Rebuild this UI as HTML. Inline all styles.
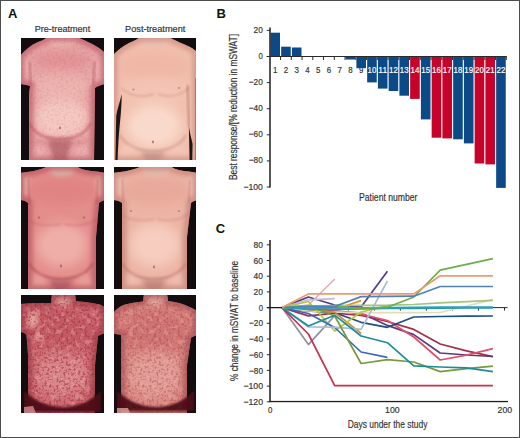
<!DOCTYPE html>
<html><head><meta charset="utf-8"><style>
html,body{margin:0;padding:0;background:#fff;}
svg{display:block;}
text{font-family:"Liberation Sans", sans-serif;}
</style></head><body>
<svg width="520" height="438" viewBox="0 0 520 438" font-family='"Liberation Sans", sans-serif'>
<rect x="0" y="0" width="520" height="438" fill="#fff"/>
<text x="361.20" y="73.3" text-anchor="middle" textLength="4.4" lengthAdjust="spacingAndGlyphs" font-size="9" fill="#333" stroke="#333" stroke-width="0.18">9</text>
<rect x="270.40" y="32.70" width="9.6" height="23.80" fill="#0b4a86"/>
<rect x="281.15" y="46.70" width="9.6" height="9.80" fill="#0b4a86"/>
<rect x="291.90" y="47.50" width="9.6" height="9.00" fill="#0b4a86"/>
<rect x="345.65" y="56.50" width="9.6" height="3.00" fill="#0b4a86"/>
<rect x="356.40" y="56.50" width="9.6" height="11.70" fill="#0b4a86"/>
<rect x="367.15" y="56.50" width="9.6" height="25.90" fill="#0b4a86"/>
<rect x="377.90" y="56.50" width="9.6" height="32.10" fill="#0b4a86"/>
<rect x="388.65" y="56.50" width="9.6" height="34.50" fill="#0b4a86"/>
<rect x="399.40" y="56.50" width="9.6" height="39.20" fill="#0b4a86"/>
<rect x="410.15" y="56.50" width="9.6" height="42.40" fill="#c8032b"/>
<rect x="420.90" y="56.50" width="9.6" height="62.90" fill="#0b4a86"/>
<rect x="431.65" y="56.50" width="9.6" height="81.20" fill="#c8032b"/>
<rect x="442.40" y="56.50" width="9.6" height="81.90" fill="#c8032b"/>
<rect x="453.15" y="56.50" width="9.6" height="82.80" fill="#0b4a86"/>
<rect x="463.90" y="56.50" width="9.6" height="86.90" fill="#0b4a86"/>
<rect x="474.65" y="56.50" width="9.6" height="107.00" fill="#c8032b"/>
<rect x="485.40" y="56.50" width="9.6" height="107.90" fill="#c8032b"/>
<rect x="496.15" y="56.50" width="9.6" height="131.40" fill="#0b4a86"/>
<rect x="269.2" y="27.5" width="1.6" height="160" fill="#2e2e2e"/>
<line x1="266.7" y1="56.5" x2="506.8" y2="56.5" stroke="#2b2b2b" stroke-width="1"/>
<line x1="266.8" y1="30.40" x2="270" y2="30.40" stroke="#2b2b2b" stroke-width="1"/>
<text x="262.8" y="32.90" text-anchor="end" textLength="9.2" lengthAdjust="spacingAndGlyphs" font-size="9" fill="#333" stroke="#333" stroke-width="0.18">20</text>
<line x1="266.8" y1="56.50" x2="270" y2="56.50" stroke="#2b2b2b" stroke-width="1"/>
<text x="262.8" y="59.00" text-anchor="end" textLength="4.3" lengthAdjust="spacingAndGlyphs" font-size="9" fill="#333" stroke="#333" stroke-width="0.18">0</text>
<line x1="266.8" y1="82.60" x2="270" y2="82.60" stroke="#2b2b2b" stroke-width="1"/>
<text x="262.8" y="85.10" text-anchor="end" textLength="14.0" lengthAdjust="spacingAndGlyphs" font-size="9" fill="#333" stroke="#333" stroke-width="0.18">−20</text>
<line x1="266.8" y1="108.70" x2="270" y2="108.70" stroke="#2b2b2b" stroke-width="1"/>
<text x="262.8" y="111.20" text-anchor="end" textLength="14.0" lengthAdjust="spacingAndGlyphs" font-size="9" fill="#333" stroke="#333" stroke-width="0.18">−40</text>
<line x1="266.8" y1="134.80" x2="270" y2="134.80" stroke="#2b2b2b" stroke-width="1"/>
<text x="262.8" y="137.30" text-anchor="end" textLength="14.0" lengthAdjust="spacingAndGlyphs" font-size="9" fill="#333" stroke="#333" stroke-width="0.18">−60</text>
<line x1="266.8" y1="160.90" x2="270" y2="160.90" stroke="#2b2b2b" stroke-width="1"/>
<text x="262.8" y="163.40" text-anchor="end" textLength="14.0" lengthAdjust="spacingAndGlyphs" font-size="9" fill="#333" stroke="#333" stroke-width="0.18">−80</text>
<line x1="266.8" y1="187.00" x2="270" y2="187.00" stroke="#2b2b2b" stroke-width="1"/>
<text x="262.8" y="189.50" text-anchor="end" textLength="19.3" lengthAdjust="spacingAndGlyphs" font-size="9" fill="#333" stroke="#333" stroke-width="0.18">−100</text>
<line x1="280.55" y1="56.5" x2="280.55" y2="60" stroke="#2b2b2b" stroke-width="1"/>
<line x1="291.30" y1="56.5" x2="291.30" y2="60" stroke="#2b2b2b" stroke-width="1"/>
<line x1="302.05" y1="56.5" x2="302.05" y2="60" stroke="#2b2b2b" stroke-width="1"/>
<line x1="312.80" y1="56.5" x2="312.80" y2="60" stroke="#2b2b2b" stroke-width="1"/>
<line x1="323.55" y1="56.5" x2="323.55" y2="60" stroke="#2b2b2b" stroke-width="1"/>
<line x1="334.30" y1="56.5" x2="334.30" y2="60" stroke="#2b2b2b" stroke-width="1"/>
<line x1="345.05" y1="56.5" x2="345.05" y2="60" stroke="#2b2b2b" stroke-width="1"/>
<line x1="355.80" y1="56.5" x2="355.80" y2="60" stroke="#2b2b2b" stroke-width="1"/>
<line x1="366.55" y1="56.5" x2="366.55" y2="60" stroke="#2b2b2b" stroke-width="1"/>
<line x1="377.30" y1="56.5" x2="377.30" y2="60" stroke="#2b2b2b" stroke-width="1"/>
<line x1="388.05" y1="56.5" x2="388.05" y2="60" stroke="#2b2b2b" stroke-width="1"/>
<line x1="398.80" y1="56.5" x2="398.80" y2="60" stroke="#2b2b2b" stroke-width="1"/>
<line x1="409.55" y1="56.5" x2="409.55" y2="60" stroke="#2b2b2b" stroke-width="1"/>
<line x1="420.30" y1="56.5" x2="420.30" y2="60" stroke="#2b2b2b" stroke-width="1"/>
<line x1="431.05" y1="56.5" x2="431.05" y2="60" stroke="#2b2b2b" stroke-width="1"/>
<line x1="441.80" y1="56.5" x2="441.80" y2="60" stroke="#2b2b2b" stroke-width="1"/>
<line x1="452.55" y1="56.5" x2="452.55" y2="60" stroke="#2b2b2b" stroke-width="1"/>
<line x1="463.30" y1="56.5" x2="463.30" y2="60" stroke="#2b2b2b" stroke-width="1"/>
<line x1="474.05" y1="56.5" x2="474.05" y2="60" stroke="#2b2b2b" stroke-width="1"/>
<line x1="484.80" y1="56.5" x2="484.80" y2="60" stroke="#2b2b2b" stroke-width="1"/>
<line x1="495.55" y1="56.5" x2="495.55" y2="60" stroke="#2b2b2b" stroke-width="1"/>
<line x1="506.30" y1="56.5" x2="506.30" y2="60" stroke="#2b2b2b" stroke-width="1"/>
<text x="275.20" y="73.3" text-anchor="middle" textLength="4.4" lengthAdjust="spacingAndGlyphs" font-size="9" fill="#333" stroke="#333" stroke-width="0.18">1</text>
<text x="285.95" y="73.3" text-anchor="middle" textLength="4.4" lengthAdjust="spacingAndGlyphs" font-size="9" fill="#333" stroke="#333" stroke-width="0.18">2</text>
<text x="296.70" y="73.3" text-anchor="middle" textLength="4.4" lengthAdjust="spacingAndGlyphs" font-size="9" fill="#333" stroke="#333" stroke-width="0.18">3</text>
<text x="307.45" y="73.3" text-anchor="middle" textLength="4.4" lengthAdjust="spacingAndGlyphs" font-size="9" fill="#333" stroke="#333" stroke-width="0.18">4</text>
<text x="318.20" y="73.3" text-anchor="middle" textLength="4.4" lengthAdjust="spacingAndGlyphs" font-size="9" fill="#333" stroke="#333" stroke-width="0.18">5</text>
<text x="328.95" y="73.3" text-anchor="middle" textLength="4.4" lengthAdjust="spacingAndGlyphs" font-size="9" fill="#333" stroke="#333" stroke-width="0.18">6</text>
<text x="339.70" y="73.3" text-anchor="middle" textLength="4.4" lengthAdjust="spacingAndGlyphs" font-size="9" fill="#333" stroke="#333" stroke-width="0.18">7</text>
<text x="350.45" y="73.3" text-anchor="middle" textLength="4.4" lengthAdjust="spacingAndGlyphs" font-size="9" fill="#333" stroke="#333" stroke-width="0.18">8</text>
<text x="371.95" y="73.3" text-anchor="middle" textLength="8.8" lengthAdjust="spacingAndGlyphs" font-size="9" fill="#fff" stroke="#fff" stroke-width="0.18">10</text>
<text x="382.70" y="73.3" text-anchor="middle" textLength="8.8" lengthAdjust="spacingAndGlyphs" font-size="9" fill="#fff" stroke="#fff" stroke-width="0.18">11</text>
<text x="393.45" y="73.3" text-anchor="middle" textLength="8.8" lengthAdjust="spacingAndGlyphs" font-size="9" fill="#fff" stroke="#fff" stroke-width="0.18">12</text>
<text x="404.20" y="73.3" text-anchor="middle" textLength="8.8" lengthAdjust="spacingAndGlyphs" font-size="9" fill="#fff" stroke="#fff" stroke-width="0.18">13</text>
<text x="414.95" y="73.3" text-anchor="middle" textLength="8.8" lengthAdjust="spacingAndGlyphs" font-size="9" fill="#fff" stroke="#fff" stroke-width="0.18">14</text>
<text x="425.70" y="73.3" text-anchor="middle" textLength="8.8" lengthAdjust="spacingAndGlyphs" font-size="9" fill="#fff" stroke="#fff" stroke-width="0.18">15</text>
<text x="436.45" y="73.3" text-anchor="middle" textLength="8.8" lengthAdjust="spacingAndGlyphs" font-size="9" fill="#fff" stroke="#fff" stroke-width="0.18">16</text>
<text x="447.20" y="73.3" text-anchor="middle" textLength="8.8" lengthAdjust="spacingAndGlyphs" font-size="9" fill="#fff" stroke="#fff" stroke-width="0.18">17</text>
<text x="457.95" y="73.3" text-anchor="middle" textLength="8.8" lengthAdjust="spacingAndGlyphs" font-size="9" fill="#fff" stroke="#fff" stroke-width="0.18">18</text>
<text x="468.70" y="73.3" text-anchor="middle" textLength="8.8" lengthAdjust="spacingAndGlyphs" font-size="9" fill="#fff" stroke="#fff" stroke-width="0.18">19</text>
<text x="479.45" y="73.3" text-anchor="middle" textLength="8.8" lengthAdjust="spacingAndGlyphs" font-size="9" fill="#fff" stroke="#fff" stroke-width="0.18">20</text>
<text x="490.20" y="73.3" text-anchor="middle" textLength="8.8" lengthAdjust="spacingAndGlyphs" font-size="9" fill="#fff" stroke="#fff" stroke-width="0.18">21</text>
<text x="500.95" y="73.3" text-anchor="middle" textLength="8.8" lengthAdjust="spacingAndGlyphs" font-size="9" fill="#fff" stroke="#fff" stroke-width="0.18">22</text>
<text x="359" y="201.1" textLength="58.5" lengthAdjust="spacingAndGlyphs" font-size="10.6" fill="#333" stroke="#333" stroke-width="0.18">Patient number</text>
<text transform="translate(236.6,180) rotate(-90)" x="0" y="0" textLength="146" lengthAdjust="spacingAndGlyphs" font-size="10" fill="#333" stroke="#333" stroke-width="0.18">Best response/[% reduction in mSWAT]</text>
<rect x="269.2" y="240" width="1.6" height="162" fill="#2a2a2a"/>
<rect x="269.2" y="400.9" width="238.8" height="1.3" fill="#1e1e1e"/>
<line x1="266.8" y1="244.80" x2="270" y2="244.80" stroke="#2b2b2b" stroke-width="1"/>
<text x="263" y="247.90" text-anchor="end" textLength="9.4" lengthAdjust="spacingAndGlyphs" font-size="9" fill="#333" stroke="#333" stroke-width="0.18">80</text>
<line x1="266.8" y1="260.50" x2="270" y2="260.50" stroke="#2b2b2b" stroke-width="1"/>
<text x="263" y="263.60" text-anchor="end" textLength="9.4" lengthAdjust="spacingAndGlyphs" font-size="9" fill="#333" stroke="#333" stroke-width="0.18">60</text>
<line x1="266.8" y1="276.20" x2="270" y2="276.20" stroke="#2b2b2b" stroke-width="1"/>
<text x="263" y="279.30" text-anchor="end" textLength="9.4" lengthAdjust="spacingAndGlyphs" font-size="9" fill="#333" stroke="#333" stroke-width="0.18">40</text>
<line x1="266.8" y1="291.90" x2="270" y2="291.90" stroke="#2b2b2b" stroke-width="1"/>
<text x="263" y="295.00" text-anchor="end" textLength="9.4" lengthAdjust="spacingAndGlyphs" font-size="9" fill="#333" stroke="#333" stroke-width="0.18">20</text>
<line x1="266.8" y1="307.60" x2="270" y2="307.60" stroke="#2b2b2b" stroke-width="1"/>
<text x="263" y="310.70" text-anchor="end" textLength="4.3" lengthAdjust="spacingAndGlyphs" font-size="9" fill="#333" stroke="#333" stroke-width="0.18">0</text>
<line x1="266.8" y1="323.30" x2="270" y2="323.30" stroke="#2b2b2b" stroke-width="1"/>
<text x="263" y="326.40" text-anchor="end" textLength="14.0" lengthAdjust="spacingAndGlyphs" font-size="9" fill="#333" stroke="#333" stroke-width="0.18">−20</text>
<line x1="266.8" y1="339.00" x2="270" y2="339.00" stroke="#2b2b2b" stroke-width="1"/>
<text x="263" y="342.10" text-anchor="end" textLength="14.0" lengthAdjust="spacingAndGlyphs" font-size="9" fill="#333" stroke="#333" stroke-width="0.18">−40</text>
<line x1="266.8" y1="354.70" x2="270" y2="354.70" stroke="#2b2b2b" stroke-width="1"/>
<text x="263" y="357.80" text-anchor="end" textLength="14.0" lengthAdjust="spacingAndGlyphs" font-size="9" fill="#333" stroke="#333" stroke-width="0.18">−60</text>
<line x1="266.8" y1="370.40" x2="270" y2="370.40" stroke="#2b2b2b" stroke-width="1"/>
<text x="263" y="373.50" text-anchor="end" textLength="14.0" lengthAdjust="spacingAndGlyphs" font-size="9" fill="#333" stroke="#333" stroke-width="0.18">−80</text>
<line x1="266.8" y1="386.10" x2="270" y2="386.10" stroke="#2b2b2b" stroke-width="1"/>
<text x="263" y="389.20" text-anchor="end" textLength="19.6" lengthAdjust="spacingAndGlyphs" font-size="9" fill="#333" stroke="#333" stroke-width="0.18">−100</text>
<line x1="266.8" y1="401.80" x2="270" y2="401.80" stroke="#2b2b2b" stroke-width="1"/>
<text x="263" y="404.90" text-anchor="end" textLength="19.6" lengthAdjust="spacingAndGlyphs" font-size="9" fill="#333" stroke="#333" stroke-width="0.18">−120</text>
<line x1="267" y1="307.6" x2="507.5" y2="307.6" stroke="#2b2b2b" stroke-width="1"/>
<line x1="296.28" y1="307.6" x2="296.28" y2="310.6" stroke="#2b2b2b" stroke-width="1"/>
<line x1="322.31" y1="307.6" x2="322.31" y2="310.6" stroke="#2b2b2b" stroke-width="1"/>
<line x1="348.34" y1="307.6" x2="348.34" y2="310.6" stroke="#2b2b2b" stroke-width="1"/>
<line x1="374.37" y1="307.6" x2="374.37" y2="310.6" stroke="#2b2b2b" stroke-width="1"/>
<line x1="400.40" y1="307.6" x2="400.40" y2="310.6" stroke="#2b2b2b" stroke-width="1"/>
<line x1="426.43" y1="307.6" x2="426.43" y2="310.6" stroke="#2b2b2b" stroke-width="1"/>
<line x1="452.46" y1="307.6" x2="452.46" y2="310.6" stroke="#2b2b2b" stroke-width="1"/>
<line x1="478.49" y1="307.6" x2="478.49" y2="310.6" stroke="#2b2b2b" stroke-width="1"/>
<line x1="504.52" y1="307.6" x2="504.52" y2="310.6" stroke="#2b2b2b" stroke-width="1"/>
<polyline points="282.0,307.6 308.4,297.0 334.7,305.0 361.1,307.0 387.4,271.2" fill="none" stroke="#4e3c8e" stroke-width="1.7" stroke-linejoin="round"/>
<polyline points="282.0,307.6 308.4,315.9 334.7,313.2 361.1,315.5 387.4,321.5 413.8,329.4 440.2,344.0 466.5,350.9 492.9,356.6" fill="none" stroke="#a33048" stroke-width="1.7" stroke-linejoin="round"/>
<polyline points="282.0,307.6 308.4,310.0 334.7,311.0 361.1,313.0 387.4,325.4 413.8,334.6 440.2,353.0 466.5,355.0 492.9,356.5" fill="none" stroke="#5c3a78" stroke-width="1.7" stroke-linejoin="round"/>
<polyline points="282.0,307.6 308.4,311.0 334.7,311.0 361.1,314.0 387.4,320.5 413.8,337.0 440.2,360.0 466.5,355.2 492.9,348.7" fill="none" stroke="#e0506c" stroke-width="1.7" stroke-linejoin="round"/>
<polyline points="282.0,307.6 308.4,311.0 334.7,312.8 361.1,322.3 387.4,327.3 413.8,317.0 440.2,316.5 466.5,316.2 492.9,316.0" fill="none" stroke="#1f4e84" stroke-width="1.7" stroke-linejoin="round"/>
<polyline points="282.0,307.6 308.4,311.0 334.7,312.0 361.1,312.7 387.4,312.7 413.8,312.7 440.2,312.5 466.5,306.0 492.9,299.6" fill="none" stroke="#e2dcbc" stroke-width="1.7" stroke-linejoin="round"/>
<polyline points="282.0,307.6 308.4,307.5 334.7,309.5 361.1,300.6" fill="none" stroke="#ec8a28" stroke-width="1.7" stroke-linejoin="round"/>
<polyline points="282.0,307.6 308.4,309.0 334.7,312.3 361.1,333.4" fill="none" stroke="#d4843c" stroke-width="1.7" stroke-linejoin="round"/>
<polyline points="282.0,307.6 308.4,344.6 334.7,315.6" fill="none" stroke="#9090a4" stroke-width="1.7" stroke-linejoin="round"/>
<polyline points="282.0,307.6 308.4,299.8 334.7,298.6" fill="none" stroke="#c8b8d4" stroke-width="1.7" stroke-linejoin="round"/>
<polyline points="282.0,307.6 308.4,305.0 334.7,279.0" fill="none" stroke="#e0b0bc" stroke-width="1.7" stroke-linejoin="round"/>
<polyline points="282.0,307.6 308.4,301.5 334.7,331.0 361.1,312.0 387.4,306.0" fill="none" stroke="#b4c840" stroke-width="1.7" stroke-linejoin="round"/>
<polyline points="282.0,307.6 308.4,313.5 334.7,327.5 361.1,352.0 387.4,357.3" fill="none" stroke="#3a68bc" stroke-width="1.7" stroke-linejoin="round"/>
<polyline points="282.0,307.6 308.4,327.0 334.7,327.2 361.1,329.4 387.4,281.0" fill="none" stroke="#a8bcdc" stroke-width="1.7" stroke-linejoin="round"/>
<polyline points="282.0,307.6 308.4,334.0 334.7,385.6 361.1,385.6 387.4,385.6 413.8,385.6 440.2,385.6 466.5,385.6 492.9,385.6" fill="none" stroke="#c8324a" stroke-width="1.7" stroke-linejoin="round"/>
<polyline points="282.0,307.6 308.4,305.5 334.7,316.0 361.1,363.5 387.4,359.6 413.8,362.0 440.2,371.6 466.5,368.7 492.9,366.1" fill="none" stroke="#7a9a3a" stroke-width="1.7" stroke-linejoin="round"/>
<polyline points="282.0,307.6 308.4,326.0 334.7,315.2 361.1,336.0 387.4,342.7 413.8,365.8 440.2,367.0 466.5,367.8 492.9,371.7" fill="none" stroke="#1a8e98" stroke-width="1.7" stroke-linejoin="round"/>
<polyline points="282.0,307.6 308.4,309.0 334.7,309.5 361.1,308.8 387.4,308.4 413.8,308.4 440.2,308.2 466.5,308.0 492.9,307.8" fill="none" stroke="#2a9a9a" stroke-width="1.7" stroke-linejoin="round"/>
<polyline points="282.0,307.6 308.4,308.0 334.7,308.0 361.1,307.8 387.4,307.6 413.8,307.4 440.2,307.2 466.5,307.2 492.9,307.2" fill="none" stroke="#2c9ec8" stroke-width="1.7" stroke-linejoin="round"/>
<polyline points="282.0,307.6 308.4,305.8 334.7,305.5 361.1,305.3 387.4,305.2 413.8,304.5 440.2,302.9 466.5,301.6 492.9,300.4" fill="none" stroke="#a4c47c" stroke-width="1.7" stroke-linejoin="round"/>
<polyline points="282.0,307.6 308.4,306.2 334.7,306.4 361.1,308.6 387.4,307.2 413.8,297.0 440.2,270.2 466.5,264.4 492.9,258.6" fill="none" stroke="#6cae48" stroke-width="1.7" stroke-linejoin="round"/>
<polyline points="282.0,307.6 308.4,306.5 334.7,306.5 361.1,296.6 387.4,296.4 413.8,296.2 440.2,286.5 466.5,286.5 492.9,286.5" fill="none" stroke="#4d82ba" stroke-width="1.7" stroke-linejoin="round"/>
<polyline points="282.0,307.6 308.4,293.9 334.7,293.9 361.1,293.9 387.4,293.9 413.8,293.9 440.2,275.8 466.5,275.8 492.9,275.8" fill="none" stroke="#eb9b6e" stroke-width="1.7" stroke-linejoin="round"/>
<line x1="267" y1="307.6" x2="282" y2="307.6" stroke="#1a1a1a" stroke-width="1.2"/>
<text x="270.1" y="412.6" text-anchor="middle" textLength="4.4" lengthAdjust="spacingAndGlyphs" font-size="9" fill="#333" stroke="#333" stroke-width="0.18">0</text>
<text x="392.4" y="412.6" text-anchor="middle" textLength="14.6" lengthAdjust="spacingAndGlyphs" font-size="9" fill="#333" stroke="#333" stroke-width="0.18">100</text>
<text x="504.9" y="412.6" text-anchor="middle" textLength="14.6" lengthAdjust="spacingAndGlyphs" font-size="9" fill="#333" stroke="#333" stroke-width="0.18">200</text>
<text x="347.7" y="427.9" textLength="79.8" lengthAdjust="spacingAndGlyphs" font-size="10.8" fill="#333" stroke="#333" stroke-width="0.18">Days under the study</text>
<text transform="translate(238,381) rotate(-90)" x="0" y="0" textLength="120" lengthAdjust="spacingAndGlyphs" font-size="10.4" fill="#333" stroke="#333" stroke-width="0.18">% change in mSWAT to baseline</text>
<text x="8" y="18.2" font-size="13" font-weight="bold" fill="#111">A</text>
<text x="216.4" y="18.2" font-size="13" font-weight="bold" fill="#111">B</text>
<text x="215.8" y="233.3" font-size="13" font-weight="bold" fill="#111">C</text>
<text x="34.7" y="31.8" textLength="55.5" lengthAdjust="spacingAndGlyphs" font-size="8.6" fill="#333" stroke="#333" stroke-width="0.18">Pre-treatment</text>
<text x="125.1" y="31.8" textLength="60.2" lengthAdjust="spacingAndGlyphs" font-size="8.6" fill="#333" stroke="#333" stroke-width="0.18">Post-treatment</text>
<defs>
<filter id="soft" x="-5%" y="-5%" width="110%" height="110%"><feGaussianBlur stdDeviation="0.5"/></filter>
<filter id="b1" x="-50%" y="-50%" width="200%" height="200%"><feGaussianBlur stdDeviation="1"/></filter>
<filter id="b2" x="-50%" y="-50%" width="200%" height="200%"><feGaussianBlur stdDeviation="2"/></filter>
<filter id="b4" x="-50%" y="-50%" width="200%" height="200%"><feGaussianBlur stdDeviation="4"/></filter>
<filter id="b6" x="-50%" y="-50%" width="200%" height="200%"><feGaussianBlur stdDeviation="6"/></filter>
<filter id="mot1" x="0" y="0" width="100%" height="100%" color-interpolation-filters="sRGB"><feTurbulence type="fractalNoise" baseFrequency="0.42" numOctaves="2" seed="4"/><feColorMatrix type="matrix" values="0 0 0 0 0.64  0 0 0 0 0.18  0 0 0 0 0.24  6 0 0 0 -3"/></filter>
<filter id="mot2" x="0" y="0" width="100%" height="100%" color-interpolation-filters="sRGB"><feTurbulence type="fractalNoise" baseFrequency="0.2" numOctaves="2" seed="9"/><feColorMatrix type="matrix" values="0 0 0 0 0.94  0 0 0 0 0.72  0 0 0 0 0.70  6 0 0 0 -3.2"/></filter>
</defs>
<clipPath id="pc1"><rect x="0" y="0" width="83" height="122"/></clipPath>
<clipPath id="sk1"><path d="M26,-1 L56,-1 C63,2 72,6 78,10 C81,12 83,14 84,15 L84,46 C80,47 76,48 74,50 L73,123 L8,123 L8,60 C8,54 9,50 9,48 C6,47 2,46 -1,46 L-1,18 C4,12 10,7 16,4.5 C20,3 24,1.5 26,-1 Z"/></clipPath>
<g transform="translate(21,38)" clip-path="url(#pc1)">
<rect x="0" y="0" width="83" height="122" fill="#140d10"/>
<g filter="url(#soft)">
<path d="M26,-1 L56,-1 C63,2 72,6 78,10 C81,12 83,14 84,15 L84,46 C80,47 76,48 74,50 L73,123 L8,123 L8,60 C8,54 9,50 9,48 C6,47 2,46 -1,46 L-1,18 C4,12 10,7 16,4.5 C20,3 24,1.5 26,-1 Z" fill="#e8a6a6"/>
<g clip-path="url(#sk1)">
<ellipse cx="41" cy="3" rx="13" ry="6" fill="#ecbab2" opacity="0.8" filter="url(#b2)"/>
<ellipse cx="41" cy="22" rx="30" ry="9" fill="#d8747c" opacity="0.35" filter="url(#b4)"/>
<ellipse cx="22" cy="50" rx="12" ry="10" fill="#eeb4ae" opacity="0.5" filter="url(#b4)"/>
<ellipse cx="58" cy="50" rx="12" ry="10" fill="#eeb4ae" opacity="0.5" filter="url(#b4)"/>
<ellipse cx="40" cy="80" rx="28" ry="22" fill="#f6ccc4" opacity="0.9" filter="url(#b6)"/>
<ellipse cx="40" cy="50" rx="26" ry="14" fill="#f0bcb6" opacity="0.6" filter="url(#b6)"/>
<ellipse cx="40" cy="104" rx="28" ry="5" fill="#d07078" opacity="0.3" filter="url(#b2)"/>
<ellipse cx="3" cy="30" rx="4" ry="12" fill="#f0c0b8" opacity="0.6" filter="url(#b2)"/>
<ellipse cx="80" cy="32" rx="4" ry="12" fill="#f0c0b8" opacity="0.6" filter="url(#b2)"/>
<path d="M8.5,24 C9.0,35.0 9.5,42 10.0,48" fill="none" stroke="#9a3a48" stroke-width="1.6" opacity="0.5" filter="url(#b1)"/>
<path d="M73.5,24 C73.0,35.0 72.5,42 72.0,48" fill="none" stroke="#9a3a48" stroke-width="1.6" opacity="0.5" filter="url(#b1)"/>
<path d="M8,85 C14,97 27,101 39,101 C51,101 64,97 70,85" fill="none" stroke="#b8505c" stroke-width="2.6" opacity="0.55" filter="url(#b1)"/>
<ellipse cx="16" cy="119" rx="9" ry="12" fill="#eeb8b4" opacity="0.5" filter="url(#b2)"/>
<ellipse cx="62" cy="119" rx="9" ry="12" fill="#eeb8b4" opacity="0.5" filter="url(#b2)"/>
<path d="M27,102 L51,102 L45,125 L33,125 Z" fill="#b06068" opacity="0.75" filter="url(#b2)"/>
<ellipse cx="39" cy="90" rx="1.1" ry="1.4" fill="#8a4a48" opacity="0.6"/>
<rect x="0" y="0" width="83" height="122" filter="url(#mot1)" opacity="0.08"/>
<path d="M26,-1 L56,-1 C63,2 72,6 78,10 C81,12 83,14 84,15 L84,46 C80,47 76,48 74,50 L73,123 L8,123 L8,60 C8,54 9,50 9,48 C6,47 2,46 -1,46 L-1,18 C4,12 10,7 16,4.5 C20,3 24,1.5 26,-1 Z" fill="none" stroke="#b85060" stroke-width="9" opacity="0.6" filter="url(#b2)"/>
</g>
</g></g>
<clipPath id="pc2"><rect x="0" y="0" width="82" height="122"/></clipPath>
<clipPath id="sk2"><path d="M26,-1 L54,-1 C62,3 70,6 76,9 C80,11 82,13 83,14.4 L83,123 L-1,123 L-1,17 C4,12 9,8 15,5 C20,3 24,1 26,-1 Z"/></clipPath>
<g transform="translate(114,38)" clip-path="url(#pc2)">
<rect x="0" y="0" width="82" height="122" fill="#140d10"/>
<g filter="url(#soft)">
<path d="M26,-1 L54,-1 C62,3 70,6 76,9 C80,11 82,13 83,14.4 L83,123 L-1,123 L-1,17 C4,12 9,8 15,5 C20,3 24,1 26,-1 Z" fill="#f2c0ae"/>
<g clip-path="url(#sk2)">
<ellipse cx="40" cy="3" rx="13" ry="6" fill="#e8c0b4" opacity="0.8" filter="url(#b2)"/>
<ellipse cx="40" cy="28" rx="36" ry="14" fill="#eaa494" opacity="0.3" filter="url(#b4)"/>
<ellipse cx="40" cy="55" rx="30" ry="16" fill="#f4c8b8" opacity="0.6" filter="url(#b6)"/>
<ellipse cx="40" cy="88" rx="28" ry="22" fill="#fadccf" opacity="0.9" filter="url(#b6)"/>
<path d="M8,50 C14,58 30,60 40,56 M44,56 C54,60 68,58 76,49" fill="none" stroke="#c88070" stroke-width="1.4" opacity="0.45" filter="url(#b1)"/>
<ellipse cx="19.5" cy="51.6" rx="1.2" ry="1" fill="#b06a60" opacity="0.6"/>
<ellipse cx="65" cy="50" rx="1.2" ry="1" fill="#b06a60" opacity="0.6"/>
<path d="M6,97 C12,109 27,113 39,113 C51,113 66,109 72,97" fill="none" stroke="#c0867c" stroke-width="2.6" opacity="0.45" filter="url(#b1)"/>
<ellipse cx="14" cy="119" rx="9" ry="12" fill="#f4cabc" opacity="0.5" filter="url(#b2)"/>
<ellipse cx="64" cy="119" rx="9" ry="12" fill="#f4cabc" opacity="0.5" filter="url(#b2)"/>
<path d="M27,114 L51,114 L45,125 L33,125 Z" fill="#c09088" opacity="0.75" filter="url(#b2)"/>
<ellipse cx="39" cy="104" rx="1.1" ry="1.4" fill="#8a4a48" opacity="0.6"/>
<path d="M26,-1 L54,-1 C62,3 70,6 76,9 C80,11 82,13 83,14.4 L83,123 L-1,123 L-1,17 C4,12 9,8 15,5 C20,3 24,1 26,-1 Z" fill="none" stroke="#c88478" stroke-width="9" opacity="0.6" filter="url(#b2)"/>
</g>
<path d="M7.6,56 C6,64 3.5,70 2.2,78 L1.4,123 L3.6,123 C4,104 5.6,88 6.8,76 C7.4,68 7.8,62 7.6,56 Z" fill="#140d10" opacity="0.95"/>
<path d="M73.3,47 C74,62 74.6,75 75,88" fill="none" stroke="#7a3a3a" stroke-width="1.2" opacity="0.6" filter="url(#b1)"/>
<path d="M74.8,86 C75.5,95 77.5,100 78.6,106 L78.2,123 L75.6,123 C75.4,110 75,98 74.8,86 Z" fill="#140d10" opacity="0.95"/>
<path d="M81.5,40 L83,40 L83,123 L81.5,123 Z" fill="#140d10" opacity="0.5"/>
</g></g>
<clipPath id="pc3"><rect x="0" y="0" width="83" height="122"/></clipPath>
<clipPath id="sk3"><path d="M27,-1 L55,-1 C60,3 68,4 76,4.5 C80,5 83,5.5 84,6 L84,33 C81,34 79,35 78,36 L75,70 L75,123 L7,123 L7,36 C5,34 2,33 -1,33 L-1,6 C8,5 20,3 27,-1 Z"/></clipPath>
<g transform="translate(21,167)" clip-path="url(#pc3)">
<rect x="0" y="0" width="83" height="122" fill="#140d10"/>
<g filter="url(#soft)">
<path d="M27,-1 L55,-1 C60,3 68,4 76,4.5 C80,5 83,5.5 84,6 L84,33 C81,34 79,35 78,36 L75,70 L75,123 L7,123 L7,36 C5,34 2,33 -1,33 L-1,6 C8,5 20,3 27,-1 Z" fill="#e48e8c"/>
<g clip-path="url(#sk3)">
<ellipse cx="41" cy="3" rx="12" ry="7" fill="#dcb4ac" opacity="0.85" filter="url(#b2)"/>
<ellipse cx="41" cy="24" rx="36" ry="13" fill="#dc6e72" opacity="0.32" filter="url(#b4)"/>
<ellipse cx="4" cy="18" rx="4" ry="12" fill="#f0c4bc" opacity="0.6" filter="url(#b2)"/>
<ellipse cx="79" cy="18" rx="4" ry="12" fill="#f0c4bc" opacity="0.6" filter="url(#b2)"/>
<ellipse cx="41" cy="78" rx="26" ry="22" fill="#f2b8b0" opacity="0.8" filter="url(#b6)"/>
<path d="M6,52 C12,58 28,60 40,57 M43,57 C54,60 70,58 76,51" fill="none" stroke="#b85860" stroke-width="1.4" opacity="0.4" filter="url(#b1)"/>
<ellipse cx="18" cy="50.6" rx="1.3" ry="1.1" fill="#a04850" opacity="0.6"/>
<ellipse cx="63" cy="50.6" rx="1.3" ry="1.1" fill="#a04850" opacity="0.6"/>
<path d="M7,12 C7.5,23.0 8,30 8.5,36" fill="none" stroke="#9a3a48" stroke-width="1.6" opacity="0.45" filter="url(#b1)"/>
<path d="M77,12 C76.5,23.0 76,30 75.5,36" fill="none" stroke="#9a3a48" stroke-width="1.6" opacity="0.45" filter="url(#b1)"/>
<path d="M8,96 C14,108 28,112 40,112 C52,112 66,108 72,96" fill="none" stroke="#a84450" stroke-width="2.6" opacity="0.55" filter="url(#b1)"/>
<ellipse cx="16" cy="119" rx="9" ry="12" fill="#eaaaa4" opacity="0.5" filter="url(#b2)"/>
<ellipse cx="64" cy="119" rx="9" ry="12" fill="#eaaaa4" opacity="0.5" filter="url(#b2)"/>
<path d="M28,113 L52,113 L46,125 L34,125 Z" fill="#a85a60" opacity="0.75" filter="url(#b2)"/>
<ellipse cx="40" cy="99" rx="1.1" ry="1.4" fill="#8a4a48" opacity="0.6"/>
<path d="M27,-1 L55,-1 C60,3 68,4 76,4.5 C80,5 83,5.5 84,6 L84,33 C81,34 79,35 78,36 L75,70 L75,123 L7,123 L7,36 C5,34 2,33 -1,33 L-1,6 C8,5 20,3 27,-1 Z" fill="none" stroke="#b04c58" stroke-width="9" opacity="0.6" filter="url(#b2)"/>
</g>
</g></g>
<clipPath id="pc4"><rect x="0" y="0" width="82" height="122"/></clipPath>
<clipPath id="sk4"><path d="M28,-1 L56,-1 C61,3 68,4 75,4.5 C79,5 82,5.5 83,6 L83,33 C80,34 78,35 77,36 L73,70 L73,123 L8,123 L8,36 C6,34 2,33 -1,33 L-1,6 C8,5 20,3 28,-1 Z"/></clipPath>
<g transform="translate(114,167)" clip-path="url(#pc4)">
<rect x="0" y="0" width="82" height="122" fill="#140d10"/>
<g filter="url(#soft)">
<path d="M28,-1 L56,-1 C61,3 68,4 75,4.5 C79,5 82,5.5 83,6 L83,33 C80,34 78,35 77,36 L73,70 L73,123 L8,123 L8,36 C6,34 2,33 -1,33 L-1,6 C8,5 20,3 28,-1 Z" fill="#ecb4a4"/>
<g clip-path="url(#sk4)">
<ellipse cx="42" cy="3" rx="12" ry="7" fill="#e0c0b4" opacity="0.85" filter="url(#b2)"/>
<ellipse cx="41" cy="24" rx="36" ry="13" fill="#e49c90" opacity="0.45" filter="url(#b4)"/>
<ellipse cx="4" cy="18" rx="4" ry="12" fill="#f2ccc0" opacity="0.6" filter="url(#b2)"/>
<ellipse cx="78" cy="18" rx="4" ry="12" fill="#f2ccc0" opacity="0.6" filter="url(#b2)"/>
<ellipse cx="41" cy="78" rx="26" ry="22" fill="#f8d2c4" opacity="0.85" filter="url(#b6)"/>
<path d="M6,46 C12,53 28,55 40,52 M43,52 C54,55 70,53 76,45" fill="none" stroke="#c07c70" stroke-width="1.4" opacity="0.4" filter="url(#b1)"/>
<ellipse cx="17" cy="44" rx="1.3" ry="1.1" fill="#b0685e" opacity="0.6"/>
<ellipse cx="65" cy="44" rx="1.3" ry="1.1" fill="#b0685e" opacity="0.6"/>
<path d="M8,12 C8.5,23.0 9,30 9.5,36" fill="none" stroke="#a85a58" stroke-width="1.6" opacity="0.4" filter="url(#b1)"/>
<path d="M76,12 C75.5,23.0 75,30 74.5,36" fill="none" stroke="#a85a58" stroke-width="1.6" opacity="0.4" filter="url(#b1)"/>
<path d="M8,96 C14,108 28,112 40,112 C52,112 66,108 72,96" fill="none" stroke="#b87068" stroke-width="2.6" opacity="0.55" filter="url(#b1)"/>
<ellipse cx="16" cy="119" rx="9" ry="12" fill="#f2c4b8" opacity="0.5" filter="url(#b2)"/>
<ellipse cx="64" cy="119" rx="9" ry="12" fill="#f2c4b8" opacity="0.5" filter="url(#b2)"/>
<path d="M28,113 L52,113 L46,125 L34,125 Z" fill="#b88078" opacity="0.75" filter="url(#b2)"/>
<ellipse cx="40" cy="100" rx="1.1" ry="1.4" fill="#8a4a48" opacity="0.6"/>
<path d="M28,-1 L56,-1 C61,3 68,4 75,4.5 C79,5 82,5.5 83,6 L83,33 C80,34 78,35 77,36 L73,70 L73,123 L8,123 L8,36 C6,34 2,33 -1,33 L-1,6 C8,5 20,3 28,-1 Z" fill="none" stroke="#c07a70" stroke-width="9" opacity="0.6" filter="url(#b2)"/>
</g>
</g></g>
<clipPath id="pc5"><rect x="0" y="0" width="83" height="118"/></clipPath>
<clipPath id="sk5"><path d="M31,-1 L54,-1 L55,6 C64,7 74,8 80,10 C82,11 83,12 84,13 L84,38 C81,39 79,40 77,41 L74,70 L73.5,119 L7,119 L7,60 L5.5,40 C4,38 2,37 -1,37 L-1,9 C10,8 20,8 30,8 Z"/></clipPath>
<g transform="translate(21,295)" clip-path="url(#pc5)">
<rect x="0" y="0" width="83" height="118" fill="#140d10"/>
<g filter="url(#soft)">
<path d="M31,-1 L54,-1 L55,6 C64,7 74,8 80,10 C82,11 83,12 84,13 L84,38 C81,39 79,40 77,41 L74,70 L73.5,119 L7,119 L7,60 L5.5,40 C4,38 2,37 -1,37 L-1,9 C10,8 20,8 30,8 Z" fill="#cc6870"/>
<g clip-path="url(#sk5)">
<ellipse cx="42" cy="4" rx="11" ry="6" fill="#e0b0a8" opacity="0.7" filter="url(#b2)"/>
<ellipse cx="41" cy="34" rx="36" ry="20" fill="#b84858" opacity="0.4" filter="url(#b4)"/>
<ellipse cx="41" cy="80" rx="28" ry="22" fill="#e4a0a2" opacity="0.55" filter="url(#b6)"/>
<ellipse cx="12" cy="25" rx="5" ry="9" fill="#f0c4b4" opacity="0.65" filter="url(#b2)"/>
<ellipse cx="18" cy="42" rx="5" ry="4" fill="#f0c0b8" opacity="0.5" filter="url(#b1)"/>
<rect x="0" y="0" width="83" height="118" filter="url(#mot1)" opacity="0.55"/>
<rect x="0" y="0" width="83" height="118" filter="url(#mot2)" opacity="0.35"/>
<path d="M31,-1 L54,-1 L55,6 C64,7 74,8 80,10 C82,11 83,12 84,13 L84,38 C81,39 79,40 77,41 L74,70 L73.5,119 L7,119 L7,60 L5.5,40 C4,38 2,37 -1,37 L-1,9 C10,8 20,8 30,8 Z" fill="none" stroke="#983040" stroke-width="9" opacity="0.6" filter="url(#b2)"/>
</g>
<path d="M3,96 C14,106 28,112 42,112 C56,112 70,106 80,96 L80,117 L3,117 Z" fill="#4e1018" opacity="0.95" filter="url(#b1)"/>
<path d="M3,112 L12,111 L15,118 L3,118 Z" fill="#d89090" opacity="0.8"/>
</g></g>
<clipPath id="pc6"><rect x="0" y="0" width="82" height="118"/></clipPath>
<clipPath id="sk6"><path d="M30,-1 L53,-1 L54,6 C62,7 72,9 83,16 L83,40 C80,41 78,42 77,43 L73,70 L73,119 L7,119 L7,40 C5,39 2,39 -1,39 L-1,18 C4,12 10,9.5 12,9.5 C18,8 24,7 29,6.6 Z"/></clipPath>
<g transform="translate(114,295)" clip-path="url(#pc6)">
<rect x="0" y="0" width="82" height="118" fill="#140d10"/>
<g filter="url(#soft)">
<path d="M30,-1 L53,-1 L54,6 C62,7 72,9 83,16 L83,40 C80,41 78,42 77,43 L73,70 L73,119 L7,119 L7,40 C5,39 2,39 -1,39 L-1,18 C4,12 10,9.5 12,9.5 C18,8 24,7 29,6.6 Z" fill="#d8867f"/>
<g clip-path="url(#sk6)">
<ellipse cx="42" cy="4" rx="11" ry="6" fill="#e4b8ae" opacity="0.7" filter="url(#b2)"/>
<ellipse cx="41" cy="36" rx="36" ry="22" fill="#c46068" opacity="0.4" filter="url(#b4)"/>
<ellipse cx="41" cy="80" rx="28" ry="24" fill="#eab0a8" opacity="0.6" filter="url(#b6)"/>
<rect x="0" y="0" width="82" height="118" filter="url(#mot1)" opacity="0.32"/>
<rect x="0" y="0" width="82" height="118" filter="url(#mot2)" opacity="0.3"/>
<path d="M30,-1 L53,-1 L54,6 C62,7 72,9 83,16 L83,40 C80,41 78,42 77,43 L73,70 L73,119 L7,119 L7,40 C5,39 2,39 -1,39 L-1,18 C4,12 10,9.5 12,9.5 C18,8 24,7 29,6.6 Z" fill="none" stroke="#a04850" stroke-width="9" opacity="0.6" filter="url(#b2)"/>
</g>
<path d="M3,96 C14,106 28,112 42,112 C56,112 70,106 80,96 L80,116 L3,116 Z" fill="#4e1018" opacity="0.95" filter="url(#b1)"/>
<path d="M3,113 L14,113 L16,118 L3,118 Z" fill="#e0a0a0" opacity="0.8"/>
</g></g>
<rect x="0.5" y="0.5" width="519" height="437" fill="none" stroke="#4c4c4c" stroke-width="1"/>
</svg>
</body></html>
